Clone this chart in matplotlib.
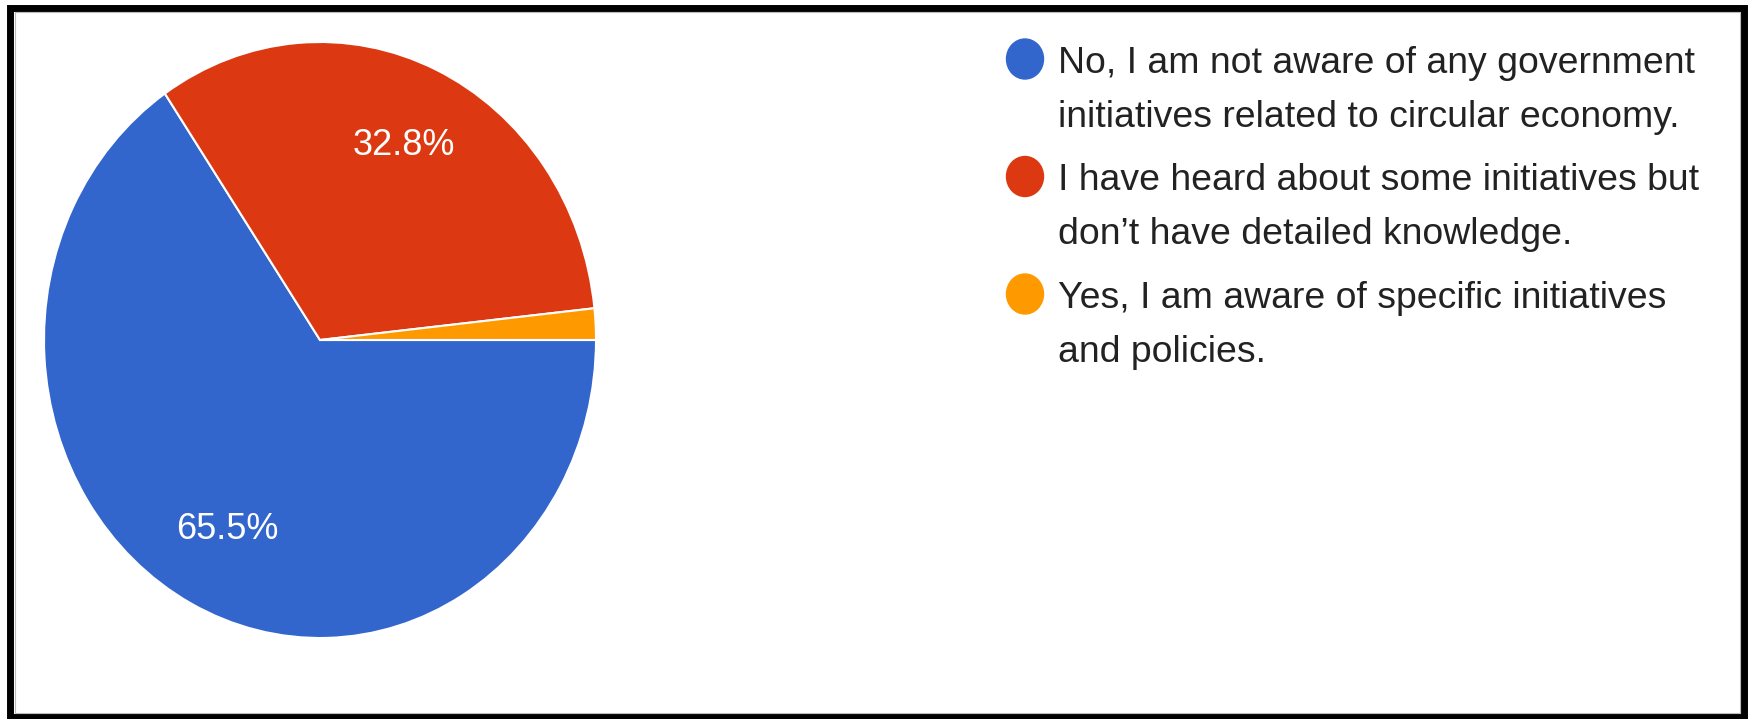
import matplotlib
matplotlib.use("Agg")
import matplotlib.pyplot as plt
from matplotlib.patches import Rectangle, Ellipse

plt.rcParams['font.family'] = ['Liberation Sans', 'DejaVu Sans']

# survey answers (Google Forms pie)
labels = [
    "No, I am not aware of any government\ninitiatives related to circular economy.",
    "I have heard about some initiatives but\ndon\u2019t have detailed knowledge.",
    "Yes, I am aware of specific initiatives\nand policies.",
]
shares = [65.5, 32.8, 1.7]
colors = ['#3366CC', '#DC3912', '#FF9900']

W, H = 1752, 719
fig = plt.figure(figsize=(W / 100, H / 100), dpi=100)

# pie axes, placed in pixels (source image is slightly stretched vertically)
cx, cy, rx, ry = 320, 340, 276, 298
ax = fig.add_axes([(cx - rx) / W, (H - cy - ry) / H, 2 * rx / W, 2 * ry / H])


def pct_label(p):
    return f'{p:.1f}%' if p > 5 else ''


wedges, _, autotexts = ax.pie(
    shares, colors=colors, startangle=0, counterclock=False,
    autopct=pct_label, pctdistance=0.72, radius=1,
    wedgeprops=dict(edgecolor='white', linewidth=1.5),
    textprops=dict(color='white', fontsize=26),
)
ax.set_aspect('auto')
ax.set_xlim(-1, 1)
ax.set_ylim(-1, 1)

# legend drawn in a pixel-space overlay
lg = fig.add_axes([0, 0, 1, 1])
lg.set_xlim(0, W)
lg.set_ylim(H, 0)
lg.axis('off')
mx, my0, pitch, line_h = 1025, 59, 117.5, 54
for i, (lab, col) in enumerate(zip(labels, colors)):
    y = my0 + i * pitch
    lg.add_patch(Ellipse((mx, y), 37, 40, color=col))
    for j, line in enumerate(lab.split('\n')):
        lg.text(1058, y + 14 + j * line_h, line, fontsize=26.9,
                color='#222222', va='baseline', ha='left')

# outer frame of the screenshot
lg.add_patch(Rectangle((10, 7.5), 1734, 709.5, fill=False,
                       edgecolor='black', linewidth=5.0))
lg.add_patch(Rectangle((14.5, 12), 1725, 700.5, fill=False,
                       edgecolor='#bbbbbb', linewidth=0.8))

fig.savefig('out.png', dpi=100, facecolor='white')
